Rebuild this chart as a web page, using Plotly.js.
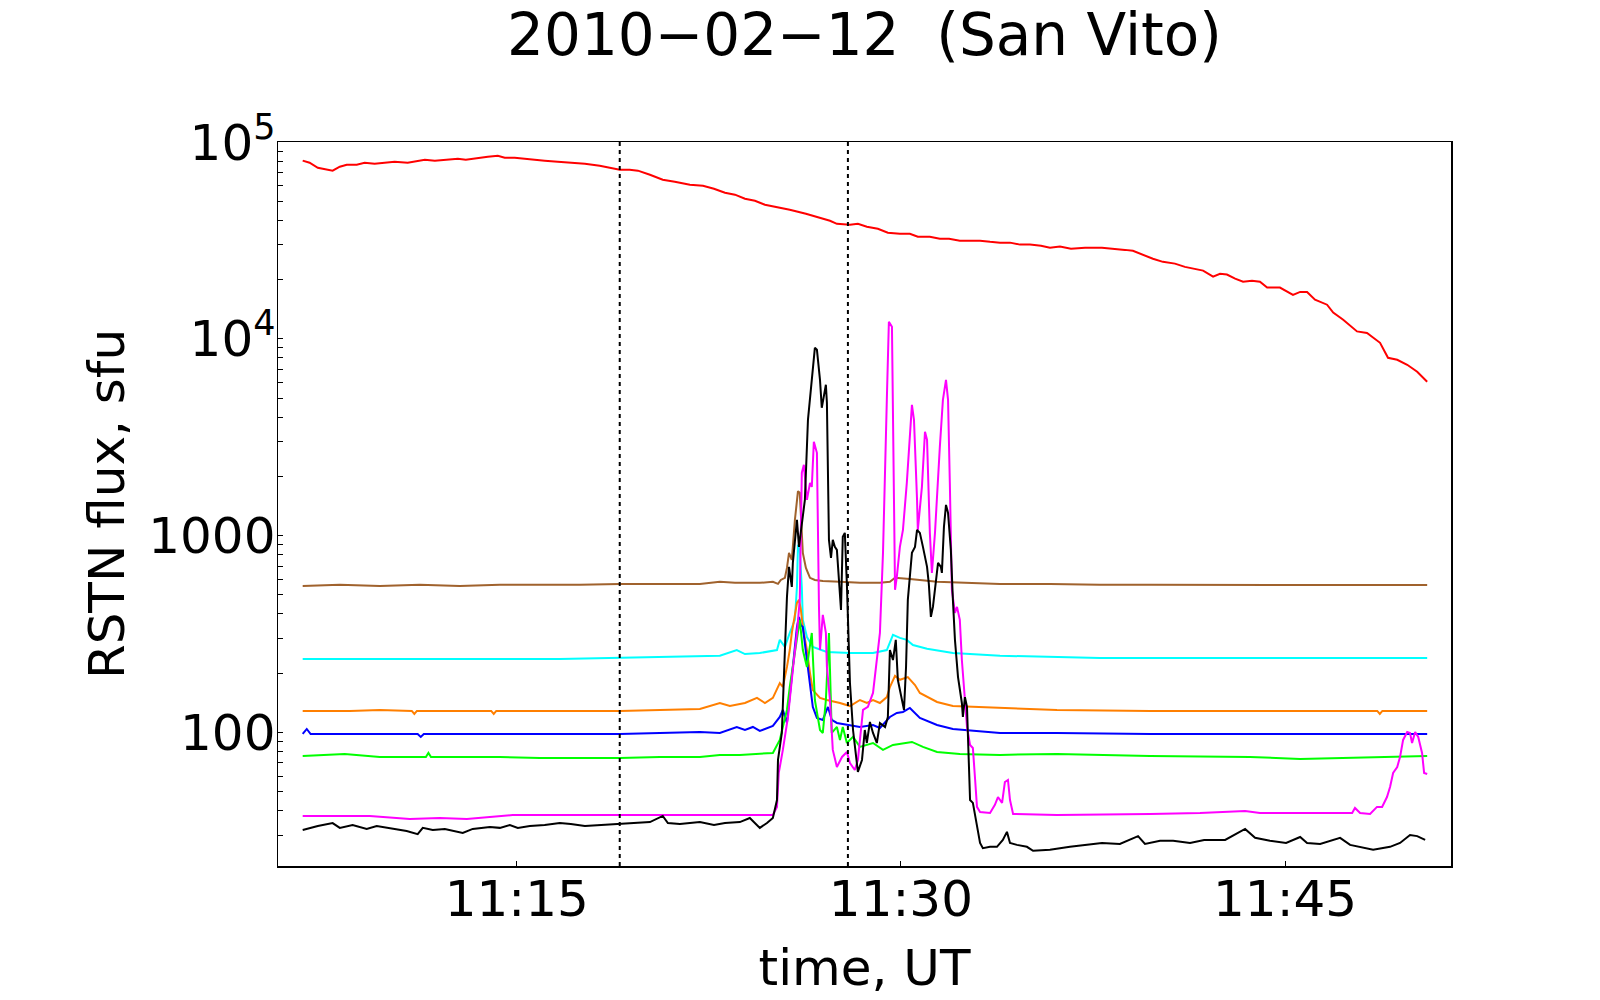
<!DOCTYPE html>
<html>
<head>
<meta charset="utf-8">
<script src="https://cdn.plot.ly/plotly-3.0.1.min.js"></script>
<style>html,body{margin:0;padding:0;background:#fff;}#chart{width:1600px;height:1000px;}</style>
</head>
<body>
<div id="chart"></div>
<script>
// Times are minutes after 11:00 UT; fluxes in sfu
const t_red = [6.64,6.91,7.23,7.58,7.81,8.09,8.36,8.75,9.06,9.45,9.84,10.23,10.74,11.13,11.41,11.80,12.34,12.70,13.01,13.48,13.87,14.26,14.53,14.92,15.55,16.09,16.60,17.11,17.66,18.24,18.63,19.02,19.41,19.73,20.20,20.70,21.17,21.76,22.27,22.70,23.13,23.52,23.91,24.30,24.69,25.12,25.66,26.29,26.84,27.23,27.50,28.01,28.32,28.67,29.10,29.49,29.96,30.35,30.66,31.13,31.52,31.88,32.30,32.70,33.09,33.48,33.87,34.26,34.65,35.04,35.47,35.82,36.21,36.64,37.19,37.85,38.36,38.75,39.06,39.45,39.84,40.23,40.70,41.09,41.45,41.80,42.19,42.46,42.73,43.05,43.36,43.71,44.02,44.30,44.80,45.31,45.59,45.86,46.17,46.64,46.88,47.27,47.81,48.20,48.71,49.02,49.38,49.77,50.16,50.55];
const f_red = [80400,78500,74000,72300,71500,74900,76700,76700,78500,77600,78500,79400,78500,80400,81300,80400,81300,82300,81300,83200,84200,85200,83200,83200,81300,80400,79400,78500,77600,75800,74000,72300,72300,71500,68200,64300,62800,60700,59900,57900,55200,54000,51500,50300,48000,46900,45300,43200,41200,39800,38400,38000,38400,37100,36200,34600,34200,34200,33000,33000,32200,32200,31500,31500,31500,31100,30800,30800,30100,30100,29700,29000,29400,28700,29000,29000,28700,28300,28000,26700,25500,24600,24100,23200,22700,22200,20700,21400,21200,20200,19500,19700,19500,18200,18200,16700,17300,17300,15800,14900,13600,12500,10900,10700,9540,8010,7820,7380,6800,6050];

const t_brown = [6.64,8.09,9.65,11.21,12.77,14.34,15.90,17.46,19.02,20.59,22.15,22.93,23.52,24.49,25.00,25.20,25.31,25.47,25.55,25.63,25.74,25.86,25.98,26.05,26.13,26.17,26.29,26.45,26.64,26.95,27.62,28.40,29.18,29.57,29.77,30.35,31.41,32.70,33.87,35.82,37.77,39.73,41.68,43.63,45.59,47.54,49.49,50.55];
const f_brown = [555,562,555,562,555,562,562,562,568,568,568,582,575,575,582,568,595,610,685,817,752,1200,1680,1650,1032,817,685,610,595,588,582,575,575,582,610,602,582,575,568,568,562,562,562,562,562,560,560,560];

const t_cyan = [6.64,10.43,14.34,16.68,19.02,21.37,22.93,23.59,23.91,24.49,25.00,25.16,25.27,25.47,25.66,25.86,25.94,25.98,26.05,26.13,26.17,26.33,26.56,27.11,28.01,28.91,29.45,29.69,29.96,30.23,30.47,31.02,32.03,33.87,37.77,41.68,45.59,50.55];
const f_cyan = [236,237,236,236,239,242,245,262,250,253,259,262,295,272,320,373,548,897,846,548,373,305,272,256,253,253,262,313,302,295,278,266,253,245,239,239,239,239];

const t_orange = [6.64,8.48,9.65,10.90,11.00,11.10,11.21,13.16,14.00,14.10,14.20,15.12,17.07,19.02,20.59,22.15,22.93,23.32,23.91,24.38,24.69,25.00,25.27,25.39,25.55,25.66,25.74,25.86,25.94,26.02,26.09,26.17,26.33,26.45,26.56,26.84,27.11,27.62,28.01,28.40,28.67,28.91,29.18,29.45,29.57,29.77,29.96,30.27,30.55,30.74,31.41,32.03,32.81,33.87,36.09,39.73,43.63,47.54,48.60,48.70,48.80,50.55];
const f_orange = [128.5,128.5,130,128.5,124,128.5,128.5,128.5,128.5,124,128.5,128.5,128.5,128.5,130,131.5,141,136,141,149.6,141,149.6,178,170,215,262,320,405,455,471,424,343,262,200,164,149.6,146,141,136,146,141,146,141,151,170,193.5,185,191,174,158.6,142.7,136,134.6,133,130,128.5,128.5,128.5,128.5,124,128.5,128.5];

const t_blue = [6.64,6.80,6.95,8.87,11.13,11.25,11.37,13.55,15.12,16.68,19.02,20.59,22.15,22.93,23.59,23.91,24.22,24.49,25.00,25.27,25.39,25.55,25.66,25.78,25.94,26.02,26.09,26.17,26.33,26.45,26.56,26.72,26.95,27.15,27.30,27.50,28.01,28.40,28.91,29.18,29.57,29.84,30.08,30.35,30.74,31.41,32.03,32.81,33.87,36.09,39.73,43.63,47.54,50.55];
const f_blue = [98.1,104,98.1,98.1,98.1,94.8,98.1,98.1,98.1,98.1,98.1,99.3,100.5,99.3,106.5,102.8,106.5,101.7,107.8,119.7,130,111.6,158.6,215,343,386,351,343,233,178,134.6,118.4,115.6,134.6,115.6,111.6,109,106.5,109,105.3,119.7,125.5,127,133,118.4,109,104,101.7,99.3,99.3,98.1,98.1,98.1,98.1];

const t_green = [6.64,7.70,8.28,9.65,11.21,11.45,11.55,11.65,12.77,14.34,15.90,17.46,19.02,20.59,22.15,22.93,23.71,25.00,25.27,25.39,25.55,25.66,25.78,25.94,26.05,26.17,26.33,26.52,26.64,26.84,26.95,27.07,27.19,27.30,27.50,27.62,27.73,27.89,28.13,28.40,28.91,29.30,29.69,30.43,30.86,31.41,32.30,33.87,36.09,39.73,43.63,45.59,47.54,49.49,50.55];
const f_green = [75.9,76.8,77.7,75,75,75,78.6,75,75,75,74.1,74.1,74.1,75,75,76.8,76.8,78.6,91.5,106.5,130,170,215,295,373,262,215,320,146,102.8,99.3,146,320,99.3,106.5,91.5,106.5,88.3,94.8,84.3,88.3,81.4,86.3,89.4,84.3,79.5,77.7,76.8,77.7,75.9,75,73.2,74.1,75,75.9];

const t_magenta = [6.64,9.26,10.82,11.99,13.05,13.95,14.84,16.68,19.02,21.37,23.71,25.00,25.16,25.23,25.39,25.59,25.78,25.94,26.05,26.13,26.21,26.33,26.45,26.52,26.60,26.72,26.80,26.84,26.95,27.07,27.11,27.23,27.34,27.50,27.70,27.89,28.01,28.20,28.32,28.52,28.71,28.91,29.18,29.30,29.45,29.53,29.65,29.69,29.77,29.84,29.96,30.08,30.23,30.43,30.51,30.63,30.66,30.82,30.94,31.02,31.13,31.21,31.33,31.52,31.64,31.76,31.84,31.91,31.99,32.11,32.19,32.30,32.38,32.50,32.58,32.70,32.81,32.89,32.97,33.09,33.48,33.67,33.79,33.95,34.06,34.18,34.26,34.38,36.09,39.73,41.68,43.44,44.02,45.59,47.62,47.73,47.93,48.32,48.59,48.79,48.98,49.10,49.22,49.38,49.49,49.61,49.77,49.88,49.96,50.08,50.20,50.35,50.43,50.55];
const f_magenta = [37.6,37.6,36.3,36.7,36.3,37.1,38.0,38.0,38.0,38.0,38.0,38.0,41.8,62.2,81.4,119.7,208,320,471,2084,2288,1519,1853,1768,2995,2633,434,262,395,320,215,146,81.4,66.7,75,79.5,69.9,64.4,72.4,130,134.6,158.6,320,817,4897,12200,11510,3328,530,617,876,1069,1853,4618,3874,1519,1069,1768,3368,3065,1032,646,1032,2824,4897,6188,4897,1853,530,405,434,373,233,146,106.5,86.3,83.3,59.3,41.8,39.4,38.9,42.8,46.9,43.8,55.9,57.3,45.3,38.5,38.0,38.5,38.9,39.8,38.9,38.9,38.9,41.3,38.9,38.5,41.8,41.8,46.9,52.8,62.2,66.7,75,91.5,100.5,99.3,88.3,100.5,94.8,78.6,62.2,61.4];

const t_black = [6.64,7.23,7.81,8.09,8.59,9.14,9.53,9.92,10.31,10.70,11.13,11.33,11.72,12.19,12.89,13.28,13.95,14.34,14.73,15.04,15.51,16.09,16.68,17.11,17.66,18.24,19.02,19.61,20.20,20.70,20.90,21.37,22.15,22.70,23.13,23.71,24.10,24.49,24.77,25.00,25.16,25.20,25.35,25.47,25.55,25.63,25.74,25.78,25.94,26.02,26.13,26.25,26.37,26.52,26.64,26.72,26.84,26.91,27.07,27.11,27.19,27.27,27.34,27.42,27.50,27.58,27.66,27.73,27.81,27.89,27.93,28.01,28.13,28.28,28.32,28.48,28.59,28.67,28.79,28.91,29.06,29.18,29.38,29.49,29.57,29.69,29.80,29.88,30.04,30.12,30.20,30.27,30.43,30.55,30.63,30.74,30.86,31.02,31.09,31.17,31.25,31.33,31.45,31.56,31.60,31.68,31.76,31.84,31.95,32.03,32.11,32.23,32.38,32.42,32.50,32.58,32.62,32.70,32.81,32.97,33.09,33.20,33.48,33.75,33.98,34.14,34.26,34.53,34.92,35.16,35.82,36.60,37.38,37.85,38.55,39.26,39.53,40.12,40.63,41.29,41.84,42.66,43.44,43.83,44.41,45.04,45.59,45.86,46.37,47.15,47.54,48.44,49.10,49.49,49.88,50.16,50.47];
const f_black = [31.9,33.4,34.6,32.7,33.8,32.3,33.4,32.7,32.3,31.5,30.4,32.7,31.9,32.3,30.8,32.3,33.0,32.7,33.8,32.7,33.4,33.8,34.6,34.2,33.4,33.8,34.2,34.6,35.0,37.6,34.6,34.2,35.0,33.8,34.6,35.0,36.7,32.7,34.6,36.7,45.3,72.4,99.3,262,488,693,548,726,1202,876,1160,1519,3874,6188,9000,8795,6188,4459,5837,4727,951,770,951,876,846,595,419,985,1032,568,386,178,102.8,66.7,62.9,72.4,102.8,88.3,112.9,99.3,88.3,111.6,106.5,119.7,262,233,295,185,146,130,215,471,817,876,1069,1032,876,693,568,386,434,530,726,693,646,1107,1432,1305,846,471,295,191,141,119.7,151,134.6,91.5,45.3,43.8,33.0,27.4,25.8,26.2,26.2,28.4,31.2,27.4,26.8,26.2,25.0,25.3,26.2,26.8,27.4,27.1,29.7,27.1,28.1,28.1,27.4,28.4,28.4,32.3,29.1,28.1,27.4,29.4,27.4,27.1,29.1,26.8,25.3,26.2,27.4,30.1,29.7,28.4];

// Time interval markers (minutes after 11:00 UT)
const markerTimes = [19.02, 27.93];

// Axis ticks
const xTickVals = [15, 30, 45];
const xTickText = ['11:15', '11:30', '11:45'];
const yMajor = [100, 1000, 10000, 100000];
const yMajorText = ['100', '1000', '10<sup>4</sup>', '10<sup>5</sup>'];

const seriesList = [
  {t: t_red, f: f_red, color: '#ff0000'},
  {t: t_brown, f: f_brown, color: '#a0622d'},
  {t: t_cyan, f: f_cyan, color: '#00ffff'},
  {t: t_orange, f: f_orange, color: '#ff7f00'},
  {t: t_blue, f: f_blue, color: '#0000ff'},
  {t: t_green, f: f_green, color: '#00ff00'},
  {t: t_magenta, f: f_magenta, color: '#ff00ff'},
  {t: t_black, f: f_black, color: '#000000'}
];

const traces = seriesList.map(s => ({
  x: s.t, y: s.f, type: 'scatter', mode: 'lines',
  line: {color: s.color, width: 2}, hoverinfo: 'skip', showlegend: false
}));

// log tick values: majors labelled, 2..9 multiples unlabelled
const yTickVals = [], yTickText = [];
[10, 100, 1000, 10000].forEach(dec => {
  for (let m = 1; m <= 9; m++) {
    const v = dec * m;
    if (v < 21) continue;
    const idx = yMajor.indexOf(v);
    yTickVals.push(v);
    yTickText.push(idx >= 0 ? yMajorText[idx] : ' ');
  }
});
yTickVals.push(100000); yTickText.push(yMajorText[3]);

const shapes = markerTimes.map(tm => ({
  type: 'line', xref: 'x', yref: 'paper', x0: tm, x1: tm, y0: 0, y1: 1,
  line: {color: '#000', width: 2, dash: '4px,4px'}, layer: 'above'
}));

const FONT = 'DejaVu Sans, Liberation Sans, sans-serif';
const layout = {
  width: 1600, height: 1000,
  paper_bgcolor: '#fff', plot_bgcolor: '#fff',
  margin: {l: 278, r: 149, t: 142, b: 134},
  font: {family: FONT, color: '#000', size: 50},
  title: {text: '2010\u221202\u221212 \u00a0(San Vito)',
          font: {family: FONT, size: 58, color: '#000'},
          x: 0.5, xref: 'paper', xanchor: 'center', y: 0.965, yref: 'container', yanchor: 'middle'},
  xaxis: {
    range: [5.676, 51.48], showgrid: false, zeroline: false,
    showline: true, mirror: true, linecolor: '#000', linewidth: 1.5,
    ticks: 'inside', ticklen: 5, tickwidth: 1, tickcolor: '#000',
    tickmode: 'array', tickvals: xTickVals, ticktext: xTickText,
    tickfont: {family: FONT, size: 50}, ticklabelstandoff: -12,
    title: {text: 'time, UT', font: {family: FONT, size: 50}, standoff: 23}
  },
  yaxis: {
    type: 'log', range: [1.3208, 5.0], showgrid: false, zeroline: false,
    showline: true, mirror: true, linecolor: '#000', linewidth: 1.5,
    ticks: 'inside', ticklen: 5, tickwidth: 1, tickcolor: '#000',
    tickmode: 'array', tickvals: yTickVals, ticktext: yTickText,
    tickfont: {family: FONT, size: 50}, ticklabelstandoff: -9,
    title: {text: 'RSTN flux, sfu', font: {family: FONT, size: 50}, standoff: 8}
  },
  shapes: shapes
};

Plotly.newPlot('chart', traces, layout, {staticPlot: true, displayModeBar: false});
</script>
</body>
</html>
